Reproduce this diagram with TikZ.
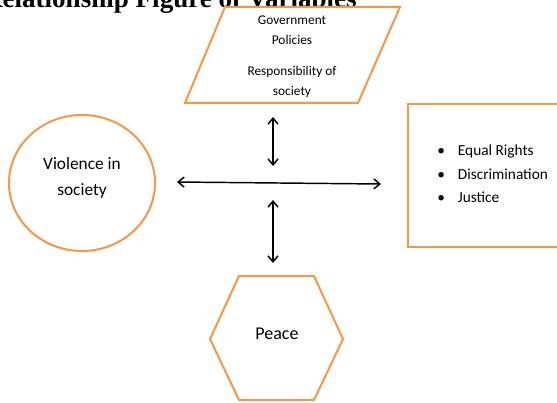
\documentclass[tikz,border=0pt]{standalone}
\usepackage{fontspec}
\setmainfont{Carlito}
\newfontfamily\titlefont{Liberation Serif}
\usetikzlibrary{arrows.meta,shapes.geometric}
\definecolor{boxorange}{RGB}{247,150,70}

\begin{document}
\begin{tikzpicture}[x=0.75pt,y=-0.75pt,
  outline/.style={draw=boxorange,line width=1.5pt,line join=miter},
  conn/.style={black,line width=1.1pt,{Straight Barb[length=4.5pt,width=7.5pt]}-{Straight Barb[length=4.5pt,width=7.5pt]}}]
\useasboundingbox (0,0) rectangle (557,403);

% title, cut at the top of the page
\node[anchor=base east,inner sep=0pt,font=\titlefont\bfseries\fontsize{20.3}{22}\selectfont] (title) at (357,8) {Relationship Figure of Variables};

% parallelogram
\draw[outline] (225,7) -- (400,7) -- (358,103) -- (185,103) -- cycle;
\node[align=center,font=\fontsize{10}{15}\selectfont] (gov) at (292,57) {Government\\Policies\\[8pt]Responsibility of\\society};

% circle
\node[ellipse,outline,minimum width=109.5pt,minimum height=102pt] (viol) at (82,183) {};
\node[align=center,font=\fontsize{13}{20}\selectfont] (violtxt) at (82,178) {Violence in\\society};

% box on the right
\draw[outline] (408,104) rectangle (580,247);
\node[anchor=west,align=left,inner sep=0pt,font=\fontsize{11.5}{17.6}\selectfont] (issues) at (437,174)
  {\makebox[15.5pt][l]{\textbullet}Equal Rights\\
   \makebox[15.5pt][l]{\textbullet}Discrimination\\
   \makebox[15.5pt][l]{\textbullet}Justice};

% hexagon
\draw[outline] (239,276) -- (314,276) -- (343,339) -- (314,400) -- (239,400) -- (210,339) -- cycle;
\node[font=\fontsize{13.5}{16}\selectfont] (peace) at (277,334) {Peace};

% arrows
\coordinate (upa) at (273,117);
\coordinate (upb) at (273,166);
\coordinate (lft) at (177,182);
\coordinate (rgt) at (381,184);
\coordinate (dna) at (273,200);
\coordinate (dnb) at (273,263);
\draw[conn] (upa) -- (upb);
\draw[conn] (lft) -- (rgt);
\draw[conn] (dna) -- (dnb);

\end{tikzpicture}
\end{document}
